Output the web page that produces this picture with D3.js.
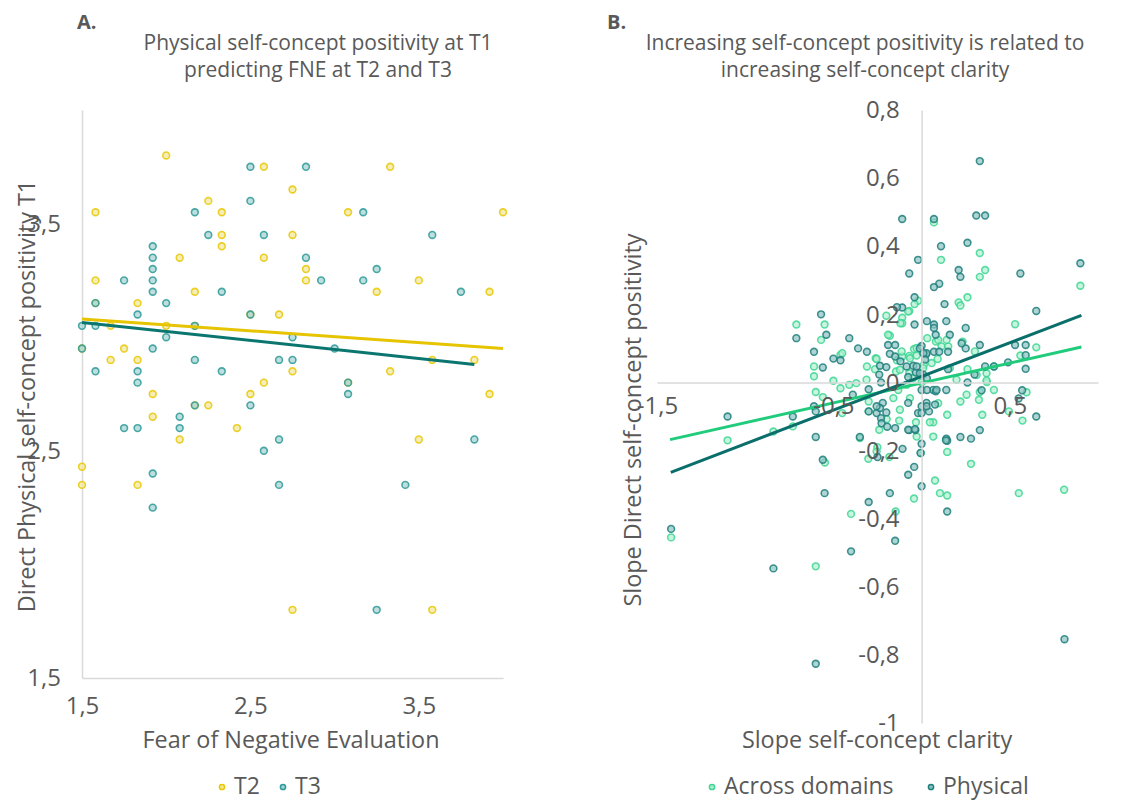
<!DOCTYPE html>
<html>
<head>
<meta charset="utf-8">
<script src="https://cdn.jsdelivr.net/npm/d3@7"></script>
<style>
  body { margin: 0; background: #fff; }
  svg { font-family: "Open Sans", sans-serif; }
  .axis path { stroke: #d9d9d9; stroke-width: 1.5; }
  .axis text { fill: #595959; font-size: 24px; font-family: "Open Sans", sans-serif; }
  .lbl { fill: #595959; }
</style>
</head>
<body>
<svg id="chart" width="1142" height="802"></svg>
<script>
// Panel A: [FNE, physical self-concept positivity T1]
const t2Points = [
  [2.0,3.80],
  [2.58,3.75],[3.33,3.75],
  [2.75,3.65],
  [2.25,3.60],
  [1.58,3.55],[2.33,3.55],[3.08,3.55],[4.0,3.55],
  [2.33,3.45],[2.75,3.45],
  [2.33,3.40],
  [2.08,3.35],[2.58,3.35],
  [2.83,3.30],
  [1.58,3.25],[2.83,3.25],[3.5,3.25],
  [2.17,3.20],[3.25,3.20],[3.92,3.20],
  [1.58,3.15],[1.83,3.15],
  [2.5,3.10],[2.67,3.10],
  [1.67,3.05],[2.0,3.05],[2.17,3.05],
  [1.5,2.95],[1.75,2.95],
  [1.67,2.90],[1.83,2.90],[3.58,2.90],[3.83,2.90],
  [2.75,2.85],[3.33,2.85],
  [2.58,2.80],[3.08,2.80],
  [1.92,2.75],[2.5,2.75],[3.92,2.75],
  [2.17,2.70],[2.25,2.70],
  [1.92,2.65],
  [2.42,2.60],
  [2.08,2.55],[3.5,2.55],
  [1.5,2.43],
  [1.5,2.35],[1.83,2.35],
  [2.75,1.80],[3.58,1.80]
];
const t3Points = [
  [2.5,3.75],[2.83,3.75],
  [2.5,3.60],
  [2.17,3.55],[3.17,3.55],
  [2.25,3.45],[2.58,3.45],[3.58,3.45],
  [1.92,3.40],
  [1.92,3.35],[2.83,3.35],
  [1.92,3.30],[3.25,3.30],
  [1.75,3.25],[1.92,3.25],[2.92,3.25],[3.17,3.25],
  [1.92,3.20],[2.33,3.20],[3.75,3.20],
  [1.58,3.15],[2.0,3.15],
  [1.83,3.10],[2.5,3.10],
  [1.5,3.05],[1.58,3.05],[2.17,3.05],
  [2.0,3.00],[2.75,3.00],
  [1.5,2.95],[1.92,2.95],[3.0,2.95],
  [2.17,2.90],[2.67,2.90],[2.75,2.90],
  [1.58,2.85],[1.83,2.85],[2.33,2.85],
  [1.83,2.80],[3.08,2.80],
  [3.08,2.75],
  [2.17,2.70],[2.5,2.70],
  [2.08,2.65],
  [1.75,2.60],[1.83,2.60],[2.08,2.60],
  [2.67,2.55],[3.83,2.55],
  [2.58,2.50],
  [1.92,2.40],
  [2.67,2.35],[3.42,2.35],
  [1.92,2.25],
  [3.25,1.80]
];
const t2Trend = [[1.5,3.08],[4.0,2.95]];
const t3Trend = [[1.5,3.065],[3.83,2.88]];
const aTicks = [1.5, 2.5, 3.5];

// Panel B: [slope clarity, slope positivity]
const physicalPoints = [
  [0.33,0.65],[-0.11,0.48],[0.07,0.48],[0.31,0.49],[0.36,0.49],
  [0.11,0.40],[0.26,0.41],[-0.02,0.36],[-0.07,0.32],[0.21,0.33],[0.22,0.31],[0.56,0.32],[0.90,0.35],
  [0.10,0.29],[0.07,0.28],[-0.04,0.25],[0.13,0.23],[0.65,0.21],[-0.11,0.22],[-0.57,0.20],
  [-0.04,0.17],[0.03,0.18],[0.07,0.17],[0.07,0.16],[0.14,0.18],[0.16,0.14],[0.08,0.14],[0.25,0.16],
  [-0.71,0.13],[-0.54,0.14],[-0.41,0.13],[-0.19,0.11],[-0.15,0.11],[-0.36,0.10],[-0.31,0.09],[-0.61,0.09],
  [-0.50,0.07],[-0.46,0.065],[-0.56,0.044],
  [0.0,0.107],[-0.01,0.10],[0.025,0.083],[0.07,0.09],[0.10,0.09],[0.15,0.09],[0.25,0.10],[0.33,0.11],
  [0.53,0.11],[0.59,0.11],[0.59,0.08],[0.59,0.04],
  [0.36,0.047],[0.30,0.023],[0.26,0.0],[0.57,-0.023],[0.55,-0.047],[0.34,-0.023],[0.33,-0.14],[0.65,-0.10],
  [0.22,-0.16],[0.28,-0.165],[0.14,-0.165],[0.0,-0.18],[-0.07,-0.14],[-0.035,-0.14],[-0.35,-0.16],[-0.60,-0.16],
  [-1.10,-0.10],[-0.73,-0.10],[-0.61,-0.07],[-0.30,-0.02],[-0.23,0.0],[-0.24,0.023],[-0.22,-0.06],
  [-0.255,-0.09],[-0.23,-0.105],[-0.227,-0.12],[-0.15,-0.134],[-0.195,-0.13],
  [-0.085,0.047],[-0.076,0.016],[-0.047,0.049],[-0.032,0.029],[0.01,0.023],[0.03,0.012],[0.066,-0.022],
  [0.0,-0.022],[0.028,-0.06],[0.042,-0.085],[-0.02,-0.09],[0.0,-0.07],[0.14,-0.022],[0.08,-0.026],
  [-0.076,-0.06],[-0.39,-0.036],
  [-0.56,-0.227],[-0.55,-0.325],[-0.18,-0.325],[-0.30,-0.351],[-0.40,-0.496],[-0.15,-0.465],[-1.42,-0.43],
  [-0.84,-0.546],[-0.60,-0.826],[0.81,-0.754],[0.145,-0.379],[0.0,-0.305],[-0.076,-0.271],[-0.042,-0.248],
  [-0.108,-0.195],[-0.25,-0.219],[0.145,-0.171],
  [-0.18,0.084],[-0.15,0.076],[-0.236,0.049],[-0.20,0.045],[-0.12,0.062],[-0.028,0.047],[-0.01,0.027],
  [0.028,0.086],[-0.14,0.221],[0.227,0.115],[0.49,0.059],[0.41,0.047],[0.15,0.039],[0.01,0.086],
  [0.02,0.067],[0.085,-0.022],[0.03,-0.022],
  [-0.60,-0.085],[-0.006,-0.207],[-0.236,-0.075],[-0.20,-0.088],[-0.076,-0.139],[-0.038,-0.137],
  [0.0,-0.09],[0.028,-0.07],[-0.30,-0.085],[-0.255,-0.07],[0.138,-0.17],[0.076,-0.065]
];
const acrossPoints = [
  [0.07,0.47],[0.33,0.38],[0.36,0.33],[0.11,0.36],[0.33,0.31],[0.26,0.25],[0.21,0.235],[0.22,0.226],
  [-0.02,0.24],[-0.04,0.23],[-0.07,0.21],[-0.11,0.19],[-0.11,0.174],[-0.20,0.196],
  [-0.71,0.17],[-0.55,0.17],[-0.57,0.125],[-0.61,0.047],[-0.61,0.018],[-0.46,0.081],[-0.50,0.005],
  [-0.46,-0.017],[-0.41,-0.007],[-0.37,-0.002],[-0.60,-0.028],[-0.56,-0.043],
  [0.90,0.284],[0.53,0.171],[0.65,0.103],[0.56,0.079],[0.41,0.047],[0.26,0.039],[0.37,0.001],[0.41,-0.022],
  [0.33,-0.028],[0.255,-0.036],[0.22,-0.056],[0.325,-0.051],[0.344,-0.095],[0.145,-0.095],[0.495,-0.085],
  [0.572,-0.112],[0.595,-0.029],
  [0.066,-0.117],[0.047,-0.117],[-0.032,-0.117],[-0.127,-0.112],[-0.198,-0.108],[-0.24,-0.139],[-0.35,-0.163],
  [-0.73,-0.129],[-0.84,-0.144],[-1.10,-0.17],[-0.45,-0.09],[-0.30,-0.085],[-0.30,-0.056],[-0.31,0.047],
  [-0.26,0.071],[-0.18,0.137],[-0.14,0.065],[-0.11,0.076],[-0.07,0.078],[-0.043,0.098],[-0.028,0.079],
  [0.032,0.13],[0.081,0.12],[0.113,0.106],[0.151,0.106],[0.091,0.069],[0.057,0.057],[0.013,0.052],
  [-0.07,0.027],[-0.145,0.032],[-0.132,-0.022],[-0.16,-0.046],[-0.123,-0.08],[-0.066,-0.046],[-0.085,-0.007],
  [0.0,0.0],[-0.028,-0.159],[0.066,-0.159],[0.094,-0.061],[0.198,0.008],[0.16,0.042],
  [-1.42,-0.455],[-0.60,-0.54],[-0.40,-0.386],[-0.147,-0.379],[-0.548,-0.235],[-0.043,-0.341],[0.076,-0.288],
  [0.104,-0.325],[0.145,-0.332],[0.28,-0.239],[0.551,-0.325],[0.808,-0.315],[0.145,-0.204],[-0.004,-0.207],
  [-0.302,-0.224],[-0.183,-0.219],[-0.251,-0.19],
  [-0.45,0.086],[-0.255,0.069],[-0.19,0.14],[-0.12,0.174],[-0.076,0.208],[-0.113,0.091],[-0.123,0.037],
  [-0.066,0.071],[-0.264,0.039],[-0.312,0.008],[-0.028,0.101],[-0.047,0.013],
  [0.094,0.125],[0.142,0.125],[0.232,0.12],[0.302,0.091],[0.368,0.027],[0.312,0.022],[0.009,0.042],
  [0.368,0.006],[-0.255,-0.203]
];
const acrossTrend = [[-1.426,-0.168],[0.906,0.104]];
const physicalTrend = [[-1.422,-0.264],[0.906,0.197]];
const bXTicks = [-1.5, -0.5, 0.5];
const bYTicks = [-1, -0.8, -0.6, -0.4, -0.2, 0, 0.2, 0.4, 0.6, 0.8];

const locale = d3.formatLocale({decimal: ",", thousands: ".", grouping: [3], currency: ["", ""], minus: "-"});
const fmtA = locale.format(".1f");
const fmtB = locale.format("~g");

const svg = d3.select("#chart");

const colors = {
  t2: {stroke: "#e8c805", fill: "#f2e79a", line: "#e6c400"},
  t3: {stroke: "#2b9a98", fill: "#a3d2d0", line: "#0b7670"},
  across: {stroke: "#3fd694", fill: "#b2efd2", line: "#20cc7c"},
  physical: {stroke: "#1f7f7d", fill: "#8cc3c1", line: "#0a6f6b"}
};

function drawPoints(g, data, x, y, c) {
  g.append("g").selectAll("circle")
    .data(data)
    .enter().append("circle")
    .attr("cx", d => x(d[0]))
    .attr("cy", d => y(d[1]))
    .attr("r", 3.4)
    .attr("fill", c.fill)
    .attr("fill-opacity", 0.7)
    .attr("stroke", c.stroke)
    .attr("stroke-opacity", 0.85)
    .attr("stroke-width", 1.6);
}

function drawTrend(g, data, x, y, color) {
  g.append("path")
    .datum(data)
    .attr("fill", "none")
    .attr("stroke", color)
    .attr("stroke-width", 3)
    .attr("d", d3.line().x(d => x(d[0])).y(d => y(d[1])));
}

function title(lines, cx, bl) {
  const t = svg.append("text").attr("class", "lbl")
    .attr("text-anchor", "middle").attr("font-size", 21);
  lines.forEach((s, i) => {
    t.append("tspan").attr("x", cx).attr("y", bl + i * 27).text(s);
  });
}

// ---------- Panel A ----------
const xA = d3.scaleLinear().domain([1.5, 4]).range([82, 503]);
const yA = d3.scaleLinear().domain([1.5, 4]).range([678, 110]);
const gA = svg.append("g");

gA.append("g").attr("class", "axis")
  .attr("transform", "translate(0,678)")
  .call(d3.axisBottom(xA).tickValues(aTicks).tickFormat(fmtA).tickSize(0).tickPadding(19));
gA.append("g").attr("class", "axis")
  .attr("transform", "translate(82,0)")
  .call(d3.axisLeft(yA).tickValues(aTicks).tickFormat(fmtA).tickSize(0).tickPadding(21));

drawPoints(gA, t2Points, xA, yA, colors.t2);
drawPoints(gA, t3Points, xA, yA, colors.t3);
drawTrend(gA, t2Trend, xA, yA, colors.t2.line);
drawTrend(gA, t3Trend, xA, yA, colors.t3.line);

svg.append("text").attr("class", "lbl").attr("x", 77).attr("y", 29)
  .attr("font-size", 20).attr("font-weight", "bold").text("A.");
title(["Physical self-concept positivity at T1", "predicting FNE at T2 and T3"], 318, 50);

svg.append("text").attr("class", "lbl").attr("text-anchor", "middle")
  .attr("font-size", 23.4).attr("x", 291).attr("y", 748)
  .text("Fear of Negative Evaluation");
svg.append("text").attr("class", "lbl").attr("text-anchor", "middle")
  .attr("font-size", 23.4)
  .attr("transform", "translate(35,396) rotate(-90)")
  .text("Direct Physical self-concept positivity T1");

// ---------- Panel B ----------
const xB = d3.scaleLinear().domain([-1.5, 1.0]).range([657, 1098]);
const yB = d3.scaleLinear().domain([-1, 0.8]).range([723, 110]);
const gB = svg.append("g");

const xAxisB = gB.append("g").attr("class", "axis")
  .attr("transform", `translate(0,${yB(0)})`)
  .call(d3.axisBottom(xB).tickValues(bXTicks).tickFormat(fmtB).tickSize(0).tickPadding(15));
const yAxisB = gB.append("g").attr("class", "axis")
  .attr("transform", `translate(${xB(0)},0)`)
  .call(d3.axisLeft(yB).tickValues(bYTicks).tickFormat(fmtB).tickSize(0).tickPadding(22));

drawPoints(gB, acrossPoints, xB, yB, colors.across);
drawPoints(gB, physicalPoints, xB, yB, colors.physical);
drawTrend(gB, acrossTrend, xB, yB, colors.across.line);
drawTrend(gB, physicalTrend, xB, yB, colors.physical.line);

// Excel draws the tick labels over the markers
xAxisB.raise();
yAxisB.raise();

svg.append("text").attr("class", "lbl").attr("x", 607).attr("y", 29)
  .attr("font-size", 20).attr("font-weight", "bold").text("B.");
title(["Increasing self-concept positivity is related to", "increasing self-concept clarity"], 865, 50);

svg.append("text").attr("class", "lbl").attr("text-anchor", "middle")
  .attr("font-size", 23.4).attr("x", 877).attr("y", 748)
  .text("Slope self-concept clarity");
svg.append("text").attr("class", "lbl").attr("text-anchor", "middle")
  .attr("font-size", 23.4)
  .attr("transform", "translate(641,420) rotate(-90)")
  .text("Slope Direct self-concept positivity");

// ---------- Legends ----------
function legend(items, y) {
  items.forEach(it => {
    svg.append("circle").attr("cx", it.x).attr("cy", y - 7).attr("r", 2.6)
      .attr("fill", it.c.fill).attr("stroke", it.c.stroke).attr("stroke-width", 1.5);
    svg.append("text").attr("class", "lbl").attr("font-size", 23)
      .attr("x", it.x + 12).attr("y", y).text(it.name);
  });
}
legend([{name: "T2", x: 222, c: colors.t2}, {name: "T3", x: 283, c: colors.t3}], 794);
legend([{name: "Across domains", x: 712, c: colors.across}, {name: "Physical", x: 931, c: colors.physical}], 794);
</script>
</body>
</html>
